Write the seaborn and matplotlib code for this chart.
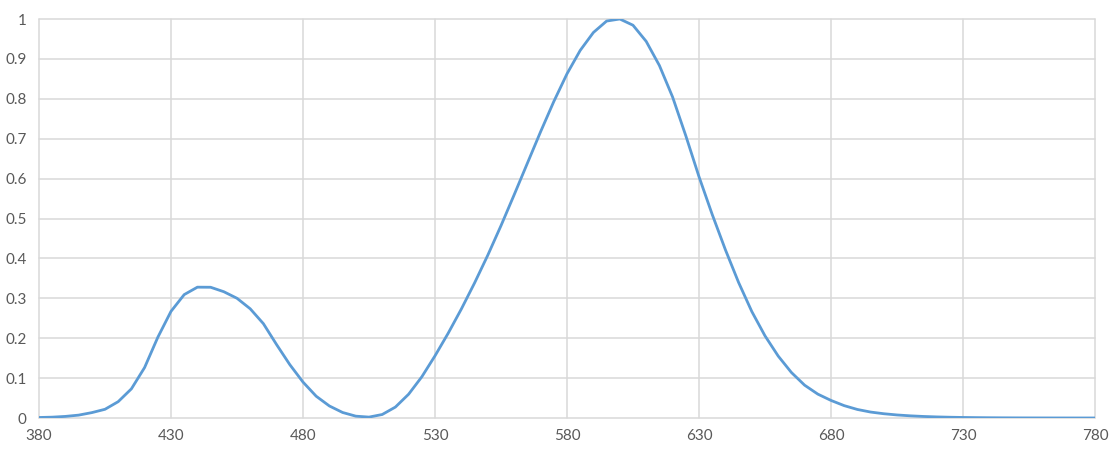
import numpy as np
import pandas as pd
import matplotlib
matplotlib.use("Agg")
import matplotlib.pyplot as plt
import seaborn as sns

# wavelength (nm)
wavelength = list(range(380, 785, 5))
# CIE 1931 x-bar colour matching function (raw), shown normalised to peak
xbar = [0.001368, 0.002236, 0.004243, 0.00765, 0.01431, 0.02319, 0.04351, 0.07763,
        0.13438, 0.21477, 0.2839, 0.3285, 0.34828, 0.34806, 0.3362, 0.3187,
        0.2908, 0.2511, 0.19536, 0.1421, 0.09564, 0.05795, 0.03201, 0.0147,
        0.0049, 0.0024, 0.0093, 0.0291, 0.06327, 0.1096, 0.1655, 0.22575,
        0.2904, 0.3597, 0.43345, 0.51205, 0.5945, 0.6784, 0.7621, 0.8425,
        0.9163, 0.9786, 1.0263, 1.0567, 1.0622, 1.0456, 1.0026, 0.9384,
        0.85445, 0.7514, 0.6424, 0.5419, 0.4479, 0.3608, 0.2835, 0.2187,
        0.1649, 0.1212, 0.0874, 0.0636, 0.04677, 0.0329, 0.0227, 0.01584,
        0.011359, 0.008111, 0.00579, 0.004109, 0.002899, 0.002049, 0.00144, 0.000999,
        0.00069, 0.000476, 0.000332, 0.000235, 0.000166, 0.000117, 0.0000831, 0.0000591,
        0.0000415]
x_ticks = [380, 430, 480, 530, 580, 630, 680, 730, 780]
y_ticks = [0, 0.1, 0.2, 0.3, 0.4, 0.5, 0.6, 0.7, 0.8, 0.9, 1]
y_ticklabels = ["0", "0.1", "0.2", "0.3", "0.4", "0.5", "0.6", "0.7", "0.8", "0.9", "1"]

peak = max(xbar)
df = pd.DataFrame({"wavelength": wavelength, "value": [v / peak for v in xbar]})

sns.set_theme(style="white")
plt.rcParams["font.family"] = ["Lato", "DejaVu Sans"]

fig = plt.figure(figsize=(11.15, 4.51), dpi=100)
ax = fig.add_axes([39 / 1115, 1 - 418 / 451, (1095 - 39) / 1115, (418 - 19) / 451])

sns.lineplot(data=df, x="wavelength", y="value", ax=ax, color="#5b9bd5",
             linewidth=2.0, zorder=3)
ax.get_lines()[0].set_solid_joinstyle("round")
ax.get_lines()[0].set_solid_capstyle("round")

ax.set_xlim(380, 780)
ax.set_ylim(0, 1)
ax.set_xticks(x_ticks)
ax.set_xticklabels([str(t) for t in x_ticks])
ax.set_yticks(y_ticks)
ax.set_yticklabels(y_ticklabels)
ax.set_xlabel("")
ax.set_ylabel("")
ax.grid(True, color="#d9d9d9", linewidth=1.1)
for g in ax.get_xgridlines() + ax.get_ygridlines():
    g.set_clip_on(False)
for s in ax.spines.values():
    s.set_visible(False)
ax.tick_params(axis="both", length=0, labelsize=11, colors="#595959")
ax.tick_params(axis="x", pad=8)
ax.tick_params(axis="y", pad=9)

fig.savefig("out.png", dpi=100)
